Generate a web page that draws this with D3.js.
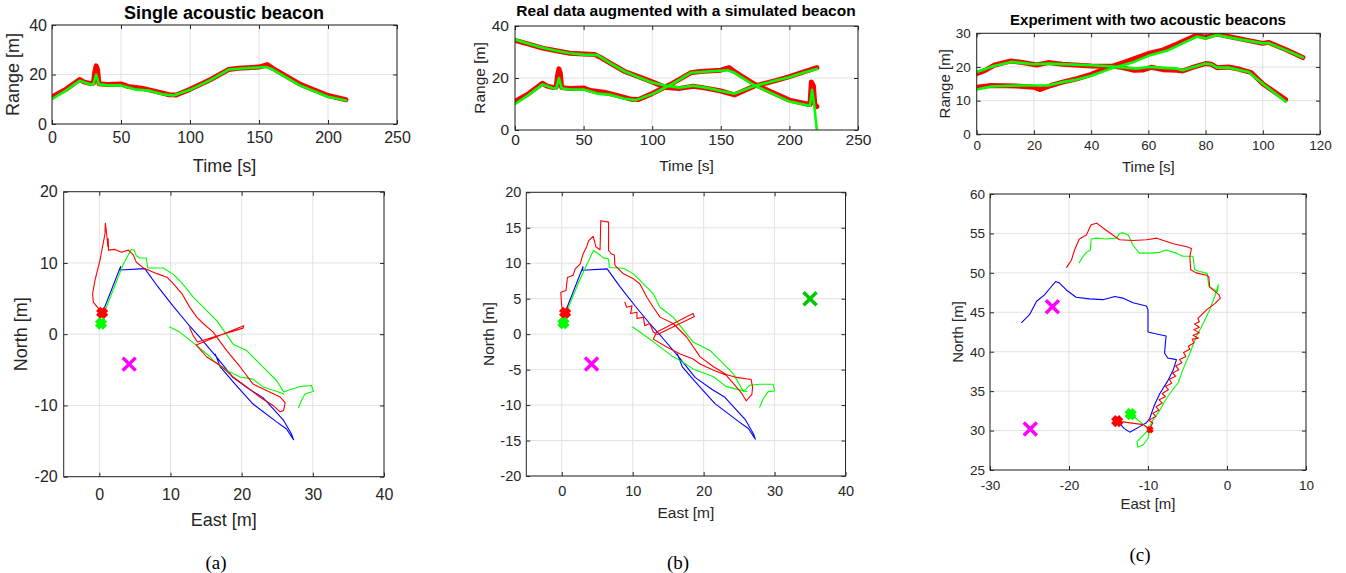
<!DOCTYPE html>
<html><head><meta charset="utf-8">
<script src="https://cdn.jsdelivr.net/npm/d3@7"></script>
<style>
body{margin:0;background:#fff;}
svg{display:block;font-family:"Liberation Sans",Arial,Helvetica,sans-serif;}
</style>
</head><body>
<svg id="chart" width="1346" height="573"></svg>
<script>
// ---------------- DATA ----------------
const titles = ["Single acoustic beacon", "Real data augmented with a simulated beacon", "Experiment with two acoustic beacons"];
const captions = ["(a)", "(b)", "(c)"];
const labelTime = "Time [s]", labelRange = "Range [m]", labelEast = "East [m]", labelNorth = "North [m]";

// tick labels
const ticksTimeAB = [0, 50, 100, 150, 200, 250];
const ticksRangeAB = [0, 20, 40];
const ticksTimeC = [0, 20, 40, 60, 80, 100, 120];
const ticksRangeC = [0, 10, 20, 30];
const ticksEastAB = [0, 10, 20, 30, 40];
const ticksNorthA = [-20, -10, 0, 10, 20];
const ticksNorthB = [-20, -15, -10, -5, 0, 5, 10, 15, 20];
const ticksEastC = [-30, -20, -10, 0, 10];
const ticksNorthC = [25, 30, 35, 40, 45, 50, 55, 60];

// range series [time s, range m]
const rangeA_meas = [[0,11],[10,14],[20,18],[23,17],[28,16.3],[30,16.5],[31,21],[32,23.5],[33,22],[34,16.3],[40,16],[50,16.2],[55,15.2],[65,14.5],[75,13.2],[85,11.8],[90,11.7],[100,14],[115,18],[128,22],[135,22.5],[150,23],[156,24],[160,22.5],[180,16],[200,11.5],[213,9.8]];
const rangeA_est = [[0,10],[10,13.5],[20,17.5],[28,16],[30,16],[32,20],[34,16],[40,15.6],[50,15.6],[60,14],[70,13.5],[80,12],[88,11.5],[100,13.8],[115,17.8],[128,22],[140,22.5],[155,23],[160,22],[180,15.5],[200,11],[213,9.5]];
const rangeB1_meas = [[0,11],[10,14],[20,18],[23,17],[28,16.3],[30,16.5],[31,21],[32,23.5],[33,22],[34,16.3],[40,16],[50,16.2],[55,15.2],[65,14.5],[75,13.2],[85,11.8],[90,11.7],[100,14],[115,18],[128,22],[135,22.5],[150,23],[156,24],[160,22.5],[175,17.5],[200,11.5],[213,10],[215,9.8],[216,18.5],[217.5,17],[218.5,10],[220,9]];
const rangeB1_est = [[0,10],[10,13.5],[20,17.5],[28,16],[30,16],[32,20],[34,16],[40,15.6],[50,15.6],[60,14],[70,13.5],[80,12],[88,11.5],[100,13.8],[115,17.8],[128,22],[140,22.5],[155,23],[160,22],[175,17],[200,11],[213,9.5],[215,9.3],[216.5,15.5],[218,10],[220,0]];
const rangeB2_meas = [[0,34.5],[10,33],[20,31.5],[30,30.5],[40,29.5],[50,29.2],[58,29],[62,28],[70,25.5],[80,22.5],[90,20.5],[100,18.5],[110,16.3],[120,16],[130,16.8],[140,16],[150,15],[160,13.5],[175,17],[190,19],[200,20.5],[210,22.3],[220,24]];
const rangeB2_est = [[0,34.8],[10,33.2],[20,31.6],[30,30.5],[40,29.5],[50,29],[60,28.8],[70,25.5],[80,22.5],[90,20.3],[100,18.3],[110,17],[120,16.3],[130,17],[140,16.2],[150,15],[160,14],[175,17],[190,19],[200,20.3],[210,22],[220,23.5]];
const rangeC1_meas = [[0,18],[3,19],[6,20.5],[12,21.8],[16,21.3],[21,20.6],[25,21.3],[30,20.8],[40,20.3],[48,20.2],[51,19.8],[55,19],[58,19.1],[61,19.9],[65,19.2],[70,19],[72,18.8],[76,20],[80,21],[82,20.8],[84,19.8],[88,20],[92,19.3],[96,18.3],[100,15],[108,10.3]];
const rangeC1_est = [[0,18.5],[6,20.3],[12,21.5],[20,20.8],[25,21],[40,20.5],[48,20.1],[52,19.8],[56,19.5],[60,20],[64,19.8],[70,19.5],[72,19],[80,21],[82,20.8],[84,19.8],[88,19.8],[95,18.5],[100,15],[108,9.7]];
const rangeC2_meas = [[0,14],[5,14.5],[15,14.3],[20,14],[22,13.3],[26,14.5],[30,15.5],[35,16.5],[40,17.8],[45,19.5],[52,21.5],[60,24],[65,25],[70,26.8],[77,29.5],[80,28.8],[84,29.8],[90,28.7],[100,27],[102,27.3],[108,25.2],[114,22.8]];
const rangeC2_est = [[0,13.3],[5,14.2],[15,14.5],[25,14.5],[30,15.5],[35,16.3],[40,17.4],[48,19.8],[55,21.5],[60,23.3],[67,25],[72,27],[77,29],[80,28.5],[84,29.5],[90,28.5],[100,27],[102,27.1],[108,25],[114,22.8]];

// trajectories [East m, North m]
const trackAB_blue = [[0.56,3.3],[3.0,9.5],[2.9,9.0],[6.4,9.2],[8.2,6.7],[10.4,3.9],[12.4,1.5],[14.1,-0.4],[16.4,-3.1],[18.8,-6.1],[21.2,-7.8],[23.0,-8.9],[25.9,-12.1],[27.0,-14.0],[27.3,-14.8],[26.3,-13.3],[24.9,-12.3],[21.6,-9.8],[18.8,-6.7],[17.0,-4.6],[16.3,-2.8]];
const trackA_green = [[0.25,1.5],[0.8,3.3],[3.4,9.9],[4.5,11.9],[4.9,11.8],[5.2,11.0],[5.7,10.7],[6.6,10.7],[6.8,9.3],[9.0,9.3],[10.4,8.4],[11.3,7.5],[12,6.7],[13.2,5.2],[15.1,3.3],[16.5,1.9],[17.5,0.5],[18.8,-1.4],[20.7,-2.3],[22.6,-4.2],[23.5,-5.1],[24.9,-6.5],[25.9,-8.1],[26.8,-7.8],[28.2,-7.35],[29.8,-7.2],[30.1,-8.0],[28.9,-8.4],[28.4,-9.3],[28.0,-10.3]];
const trackA_green2 = [[9.9,1.0],[11.3,0.3],[13.7,-1.6],[15.6,-3.2],[16.0,-3.7],[17.9,-5.1],[19.8,-6.0],[21.6,-6.3],[23.0,-7.4],[24.9,-8.0],[25.9,-8.4]];
const trackA_red = [[0.4,3.0],[-0.84,4.5],[-0.94,5.7],[-0.6,7.6],[0.1,10.4],[0.8,14.1],[0.85,15.6],[1.1,13.5],[1.2,12.3],[1.25,13.4],[1.3,11.8],[2.2,11.9],[3.1,11.5],[4.1,11.8],[4.8,11.1],[5.2,10.1],[6.2,9.3],[8.1,8.5],[9.5,8.0],[10.4,7.1],[11.6,5.7],[12.7,3.8],[13.7,2.4],[14.6,1.5],[16.0,0.3],[17.9,-2.3],[19.8,-4.6],[21.6,-7.0],[23.5,-7.9],[25.4,-8.8],[26.1,-9.6],[25.9,-10.7],[25.4,-10.9],[24.4,-10.0],[22.6,-8.85],[20.7,-7.4],[18.8,-6.0],[17.0,-4.4],[15.1,-3.2],[13.6,-1.5],[20.3,1.2],[20.2,0.85],[13.8,-1.1],[13.2,-0.2],[12.7,0.9]];
const trackB_green = [[0.23,1.55],[0.94,3.8],[2.6,7.8],[4.46,11.8],[5.2,11.3],[5.9,10.75],[6.6,10.6],[6.7,9.4],[8.7,9.3],[10.1,8.5],[11.3,7.3],[12.9,5.7],[13.85,3.8],[15.7,2.4],[18.5,-1.1],[20.9,-2.3],[22.8,-4.2],[24.2,-5.6],[25.6,-8.1],[26.5,-7.2],[27.9,-7.07],[29.8,-7.07],[30.0,-8.0],[29.1,-8.1],[28.4,-9.1],[27.9,-10.3]];
const trackB_green2 = [[10.0,1.0],[12.0,-0.4],[13.85,-1.8],[15.7,-3.2],[16.7,-3.7],[18.5,-4.9],[21.4,-6.0],[23.2,-7.4],[26.1,-8.1]];
const trackB_red = [[0.47,3.0],[0.0,3.8],[-0.14,5.9],[0.6,6.15],[0.8,8.0],[1.6,8.3],[1.9,9.2],[2.6,9.9],[3.0,11.3],[3.5,12.3],[3.8,13.2],[4.4,13.8],[4.6,13.2],[4.8,12.3],[5.4,11.9],[5.5,16.0],[6.6,15.8],[6.6,11.8],[7.0,11.3],[7.4,11.2],[7.5,9.7],[8.7,8.5],[10.1,7.8],[11.0,7.1],[12.0,5.2],[12.9,3.8],[13.85,2.4],[15.7,1.5],[17.6,-0.4],[19.5,-3.2],[21.4,-4.6],[23.2,-5.7],[24.6,-6.1],[26.7,-6.4],[26.9,-7.5],[26.8,-8.5],[26.0,-9.4],[25.4,-8.4],[24.4,-7.2],[23.2,-5.8],[21.4,-5.1],[19.5,-4.2],[18.5,-3.5],[16.7,-2.8],[14.8,-1.8],[12.9,-0.7],[13.4,0.3],[18.5,2.9],[18.7,2.5],[13.5,-0.05],[12.9,0.3],[12.4,1.5],[11.7,1.2],[11.5,2.4],[10.6,2.2],[10.6,3.1],[9.7,2.9],[9.9,4.0],[9.15,3.8],[8.9,4.5]];
const trackC_blue = [[-26.0,43.7],[-25.0,44.7],[-24.1,46.4],[-23.1,47.2],[-22.2,48.3],[-21.7,48.9],[-21.2,48.7],[-20.3,47.8],[-19.1,46.9],[-17.4,46.7],[-15.7,46.6],[-14.2,47.0],[-13.2,46.8],[-11.9,46.2],[-10.2,45.8],[-10.0,45.3],[-10.0,44.0],[-10.0,42.5],[-9.2,42.3],[-7.7,42.0],[-7.8,41.1],[-7.9,39.8],[-7.5,39.2],[-6.4,39.0],[-6.8,37.7],[-7.5,36.3],[-8.5,34.7],[-9.2,33.2],[-9.8,31.5],[-10.2,31.0],[-11.05,30.5],[-12.3,29.8],[-13.0,30.25],[-13.6,30.9]];
const trackC_green = [[-12.2,32.1],[-11.0,31.1],[-10.0,30.3],[-9.8,30.0],[-10.0,29.0],[-10.6,28.2],[-11.3,27.9],[-11.4,28.6],[-10.8,29.2],[-10.2,29.8],[-9.4,31.3],[-8.5,32.6],[-7.7,34.0],[-6.8,35.3],[-6.2,36.0],[-5.6,37.7],[-4.7,39.8],[-3.9,41.9],[-3.0,43.6],[-2.2,45.3],[-1.55,47.0],[-1.1,48.5],[-1.2,47.6],[-1.8,48.0],[-2.3,48.3],[-2.4,49.1],[-2.5,49.9],[-3.5,50.2],[-4.1,50.4],[-4.3,52.1],[-5.6,52.1],[-6.4,52.5],[-7.7,52.9],[-8.5,52.6],[-9.8,52.5],[-11.1,52.5],[-11.9,53.5],[-12.5,54.8],[-13.2,55.1],[-13.6,55.0],[-14.0,54.4],[-15.3,54.3],[-16.5,54.4],[-17.2,54.3],[-17.3,52.9],[-17.8,52.6],[-18.2,52.1],[-18.7,51.3]];
const trackC_red = [[-13.9,31.2],[-10.6,30.75],[-9.8,30.2],[-9.4,31.0],[-9.9,31.3],[-9.0,31.8],[-9.4,32.2],[-8.6,32.6],[-9.0,33.0],[-8.2,33.5],[-8.6,33.9],[-7.8,34.3],[-8.2,34.7],[-7.4,35.2],[-7.8,35.6],[-7.0,36.0],[-7.3,36.5],[-6.5,36.9],[-6.9,37.3],[-6.1,37.7],[-6.5,38.2],[-5.7,38.6],[-6.0,39.0],[-5.2,39.4],[-5.5,39.9],[-4.7,40.3],[-4.9,40.7],[-4.2,41.1],[-4.4,41.6],[-3.6,41.7],[-4.3,42.1],[-3.5,42.4],[-4.2,42.8],[-3.5,43.1],[-4.1,43.5],[-3.5,43.8],[-3.7,44.2],[-2.6,45.3],[-1.55,46.1],[-0.84,46.8],[-1.0,47.2],[-1.35,47.5],[-2.2,48.2],[-2.3,49.5],[-2.6,49.7],[-3.9,50.0],[-4.6,50.4],[-4.7,52.1],[-4.5,53.1],[-5.1,53.3],[-6.8,53.7],[-8.9,54.4],[-10.2,54.2],[-11.9,54.1],[-13.6,54.2],[-15.3,55.4],[-16.5,56.3],[-17.2,56.1],[-17.8,54.8],[-18.7,54.3],[-19.3,52.9],[-19.7,51.6],[-20.3,50.7]];

// beacons and start points [East, North]
const beaconsA = [[4.2,-4.2]];
const beaconsB_real = [[4.2,-4.2]];
const beaconsB_sim = [[35,5]];
const beaconsC = [[-22.1,45.7],[-24.9,30.2]];
const startA_red = [0.4,3.0], startA_green = [0.25,1.5];
const startB_red = [0.47,3.0], startB_green = [0.23,1.55];
const startC_red = [-13.9,31.2], startC_green = [-12.2,32.1], endC_red = [-9.75,30.1];

// ---------------- DRAWING ----------------
const svg = d3.select("#chart");
const defs = svg.append("defs");
const AX = "#262626", GRID = "#e2e2e2";
const RED = "#ff0000", GREEN = "#00ff00", BLUE = "#0000ff", MAG = "#ff00ff", DGREEN = "#00c800";
let clipN = 0;

function panel(p){
  const x = d3.scaleLinear().domain(p.xd).range([p.L, p.R]);
  const y = d3.scaleLinear().domain(p.yd).range([p.B, p.T]);
  const g = svg.append("g");
  g.append("g").selectAll("line").data(p.xt).join("line")
    .attr("x1", d => x(d)).attr("x2", d => x(d)).attr("y1", p.T).attr("y2", p.B)
    .attr("stroke", GRID).attr("stroke-width", 1);
  g.append("g").selectAll("line").data(p.yt).join("line")
    .attr("y1", d => y(d)).attr("y2", d => y(d)).attr("x1", p.L).attr("x2", p.R)
    .attr("stroke", GRID).attr("stroke-width", 1);
  const cid = "clip" + (clipN++);
  defs.append("clipPath").attr("id", cid).append("rect")
    .attr("x", p.L).attr("y", p.T).attr("width", p.R - p.L).attr("height", p.B - p.T);
  const plot = g.append("g").attr("clip-path", `url(#${cid})`);
  const line = d3.line().x(d => x(d[0])).y(d => y(d[1]));
  p.series.forEach(s => {
    plot.append("path").datum(s.data).attr("d", line)
      .attr("fill", "none").attr("stroke", s.color).attr("stroke-width", s.w)
      .attr("stroke-linejoin", "round").attr("stroke-linecap", "round");
  });
  (p.markers || []).forEach(m => {
    const cx = x(m.p[0]), cy = y(m.p[1]), s = m.s;
    plot.append("path")
      .attr("d", `M${cx-s},${cy-s}L${cx+s},${cy+s}M${cx-s},${cy+s}L${cx+s},${cy-s}`)
      .attr("stroke", m.color).attr("stroke-width", m.w).attr("fill", "none")
      .attr("stroke-linecap", "butt");
  });
  const fmt = d => String(d);
  const styleAxis = (sel, fs) => {
    sel.select(".domain").remove();
    sel.selectAll("line").attr("stroke", AX);
    sel.selectAll("text").attr("fill", AX).attr("font-size", fs).attr("font-family", "Liberation Sans, Arial, sans-serif");
  };
  g.append("g").attr("transform", `translate(0,${p.B})`)
    .call(d3.axisBottom(x).tickValues(p.xt).tickSize(-4).tickPadding(p.xpad).tickFormat(fmt))
    .call(s => styleAxis(s, p.tfs));
  g.append("g").attr("transform", `translate(0,${p.T})`)
    .call(d3.axisTop(x).tickValues(p.xt).tickSize(-4).tickFormat(""))
    .call(s => styleAxis(s, p.tfs));
  g.append("g").attr("transform", `translate(${p.L},0)`)
    .call(d3.axisLeft(y).tickValues(p.yt).tickSize(-4).tickPadding(p.ypad).tickFormat(fmt))
    .call(s => styleAxis(s, p.tfs));
  g.append("g").attr("transform", `translate(${p.R},0)`)
    .call(d3.axisRight(y).tickValues(p.yt).tickSize(-4).tickFormat(""))
    .call(s => styleAxis(s, p.tfs));
  g.append("rect").attr("x", p.L).attr("y", p.T).attr("width", p.R - p.L).attr("height", p.B - p.T)
    .attr("fill", "none").attr("stroke", AX).attr("stroke-width", 1);
  g.append("text").attr("x", (p.L + p.R) / 2).attr("y", p.xlabY).attr("text-anchor", "middle")
    .attr("font-size", p.lfs).attr("fill", AX).text(p.xlab);
  g.append("text").attr("transform", `translate(${p.ylabX},${(p.T + p.B) / 2}) rotate(-90)`)
    .attr("text-anchor", "middle").attr("font-size", p.lfs).attr("fill", AX).text(p.ylab);
  if (p.title) {
    g.append("text").attr("x", p.titleX).attr("y", p.titleY).attr("text-anchor", "middle")
      .attr("font-size", p.titleFs).attr("font-weight", "bold").attr("fill", "#000").text(p.title);
  }
}

const rangeSeries = (pairs) => [].concat(
  pairs.map(([m]) => ({data: m, color: RED, w: 5})),
  pairs.map(([, e]) => ({data: e, color: GREEN, w: 2.6})));

// (a) top
panel({L:52, R:397, T:25, B:124, xd:[0,250], yd:[0,40], xt:ticksTimeAB, yt:ticksRangeAB,
  xpad:8, ypad:5, tfs:16, lfs:18, xlab:labelTime, xlabY:172, ylab:labelRange, ylabX:19,
  title:titles[0], titleX:224, titleY:19, titleFs:18,
  series: rangeSeries([[rangeA_meas, rangeA_est]])});
// (b) top
panel({L:515, R:858, T:26, B:130, xd:[0,250], yd:[0,40], xt:ticksTimeAB, yt:ticksRangeAB,
  xpad:4, ypad:6, tfs:15.5, lfs:15.5, xlab:labelTime, xlabY:171, ylab:labelRange, ylabX:485,
  title:titles[1], titleX:686, titleY:16, titleFs:15.5,
  series: rangeSeries([[rangeB1_meas, rangeB1_est],[rangeB2_meas, rangeB2_est]])});
// (c) top
panel({L:976.7, R:1320, T:33.3, B:134.3, xd:[0,120], yd:[0,30], xt:ticksTimeC, yt:ticksRangeC,
  xpad:6, ypad:6, tfs:13.5, lfs:15, xlab:labelTime, xlabY:172, ylab:labelRange, ylabX:950,
  title:titles[2], titleX:1148, titleY:25, titleFs:15,
  series: rangeSeries([[rangeC1_meas, rangeC1_est],[rangeC2_meas, rangeC2_est]])});

const startMarker = (pt, color) => ({p: pt, color: color, s: 4, w: 6});
const beaconMarker = (pt, color) => ({p: pt, color: color, s: 6.5, w: 3.5});

// (a) bottom
panel({L:63.7, R:384, T:191.7, B:476.7, xd:[-5,40], yd:[-20,20], xt:ticksEastAB, yt:ticksNorthA,
  xpad:12, ypad:6, tfs:16, lfs:18, xlab:labelEast, xlabY:526, ylab:labelNorth, ylabX:27,
  series: [{data:trackAB_blue, color:BLUE, w:1.1}, {data:trackA_green, color:GREEN, w:1.1}, {data:trackA_green2, color:GREEN, w:1.1}, {data:trackA_red, color:RED, w:1.1}],
  markers: [...beaconsA.map(b => beaconMarker(b, MAG)), startMarker(startA_red, RED), startMarker(startA_green, GREEN)]});
// (b) bottom
panel({L:526.3, R:845.5, T:192.3, B:476, xd:[-5,40], yd:[-20,20], xt:ticksEastAB, yt:ticksNorthB,
  xpad:10, ypad:5, tfs:14.5, lfs:15.5, xlab:labelEast, xlabY:518, ylab:labelNorth, ylabX:494,
  series: [{data:trackAB_blue, color:BLUE, w:1.1}, {data:trackB_green, color:GREEN, w:1.1}, {data:trackB_green2, color:GREEN, w:1.1}, {data:trackB_red, color:RED, w:1.1}],
  markers: [...beaconsB_real.map(b => beaconMarker(b, MAG)), ...beaconsB_sim.map(b => beaconMarker(b, DGREEN)), startMarker(startB_red, RED), startMarker(startB_green, GREEN)]});
// (c) bottom
panel({L:990, R:1306, T:194, B:470, xd:[-30,10], yd:[25,60], xt:ticksEastC, yt:ticksNorthC,
  xpad:10, ypad:5, tfs:13.5, lfs:15, xlab:labelEast, xlabY:509, ylab:labelNorth, ylabX:963,
  series: [{data:trackC_blue, color:BLUE, w:1.1}, {data:trackC_green, color:GREEN, w:1.1}, {data:trackC_red, color:RED, w:1.1}],
  markers: [...beaconsC.map(b => beaconMarker(b, MAG)), startMarker(startC_red, RED), startMarker(startC_green, GREEN), {p:endC_red, color:RED, s:2.5, w:3.5}]});

// captions
const capPos = [[216,569],[678,569],[1140,561]];
svg.selectAll("text.cap").data(captions).join("text").attr("class","cap")
  .attr("x", (d,i) => capPos[i][0]).attr("y", (d,i) => capPos[i][1])
  .attr("text-anchor","middle").attr("font-family","Liberation Serif, Times New Roman, serif")
  .attr("font-size", 19).attr("fill", "#000").text(d => d);
</script>
</body></html>
